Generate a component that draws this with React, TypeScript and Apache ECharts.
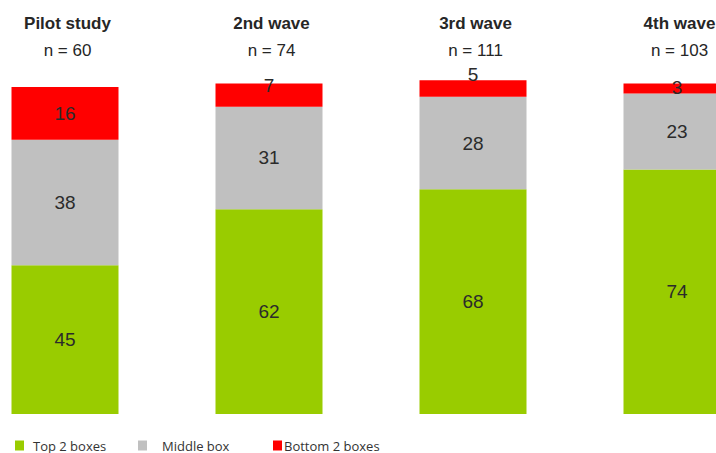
import React, { useEffect, useRef } from "react";
import * as echarts from "echarts";

const waves = ["Pilot study", "2nd wave", "3rd wave", "4th wave"];
const sampleSizes = ["n = 60", "n = 74", "n = 111", "n = 103"];
const top2 = [45, 62, 68, 74];
const middle = [38, 31, 28, 23];
const bottom2 = [16, 7, 5, 3];
const seriesNames = ["Top 2 boxes", "Middle box", "Bottom 2 boxes"];

const colors = ["#99CC00", "#C0C0C0", "#FF0000"];
const bottomLabelOffsets = [[0, 0], [0, -10], [0, -14], [0, -1]];

// the chart canvas is wider than the window and shifted left, so the last bar is cut at the edge
const SHIFT = 37;

export default function App() {
  const ref = useRef<HTMLDivElement>(null);
  useEffect(() => {
    if (!ref.current) return;
    const chart = echarts.init(ref.current, undefined, { renderer: "svg" });
    const labelBase = {
      show: true,
      position: "inside" as const,
      color: "#2b2b2b",
      fontSize: 19,
      fontFamily: "Liberation Sans, Arial, sans-serif",
    };
    const legendLefts = [15, 138, 273];
    const legendTextPad = [4, 10, -3];
    chart.setOption({
      animation: false,
      backgroundColor: "#fff",
      grid: { left: 0, right: 0, top: 77, bottom: 39 },
      xAxis: {
        type: "category",
        position: "top",
        data: waves.map((w, i) => `{a|${w}}\n{b|${sampleSizes[i]}}`),
        axisLine: { show: false },
        axisTick: { show: false },
        axisLabel: {
          interval: 0,
          margin: 13,
          rich: {
            a: {
              fontSize: 17,
              fontWeight: "bold",
              color: "#262626",
              fontFamily: "Liberation Sans, Arial, sans-serif",
              lineHeight: 27,
              padding: [0, 0, 0, 5],
            },
            b: {
              fontSize: 17,
              color: "#262626",
              fontFamily: "Liberation Sans, Arial, sans-serif",
              lineHeight: 27,
              padding: [0, 0, 0, 5],
            },
          },
        },
      },
      yAxis: { type: "value", min: 0, max: 102, show: false },
      legend: seriesNames.map((n, i) => ({
        data: [n],
        left: legendLefts[i] + SHIFT,
        top: 439,
        padding: 0,
        itemWidth: 9,
        itemHeight: 10,
        itemGap: 0,
        icon: "rect",
        textStyle: {
          color: "#333",
          fontSize: 13,
          lineHeight: 13,
          fontFamily: "Open Sans, sans-serif",
          padding: [0, 0, 0, legendTextPad[i]],
        },
      })),
      series: [
        {
          name: seriesNames[0],
          type: "bar",
          stack: "s",
          barWidth: 107,
          data: top2,
          itemStyle: { color: colors[0] },
          label: labelBase,
        },
        {
          name: seriesNames[1],
          type: "bar",
          stack: "s",
          barWidth: 107,
          data: middle,
          itemStyle: { color: colors[1] },
          label: labelBase,
        },
        {
          name: seriesNames[2],
          type: "bar",
          stack: "s",
          barWidth: 107,
          data: bottom2.map((v, i) => ({
            value: v,
            label: { offset: bottomLabelOffsets[i] },
          })),
          itemStyle: { color: colors[2] },
          label: labelBase,
        },
      ],
    });
    return () => chart.dispose();
  }, []);
  return (
    <div
      style={{
        position: "fixed",
        left: 0,
        top: 0,
        width: 716,
        height: 453,
        overflow: "hidden",
        background: "#fff",
      }}
    >
      <div
        ref={ref}
        style={{ position: "absolute", left: -SHIFT, top: 0, width: 816, height: 453 }}
      />
    </div>
  );
}
